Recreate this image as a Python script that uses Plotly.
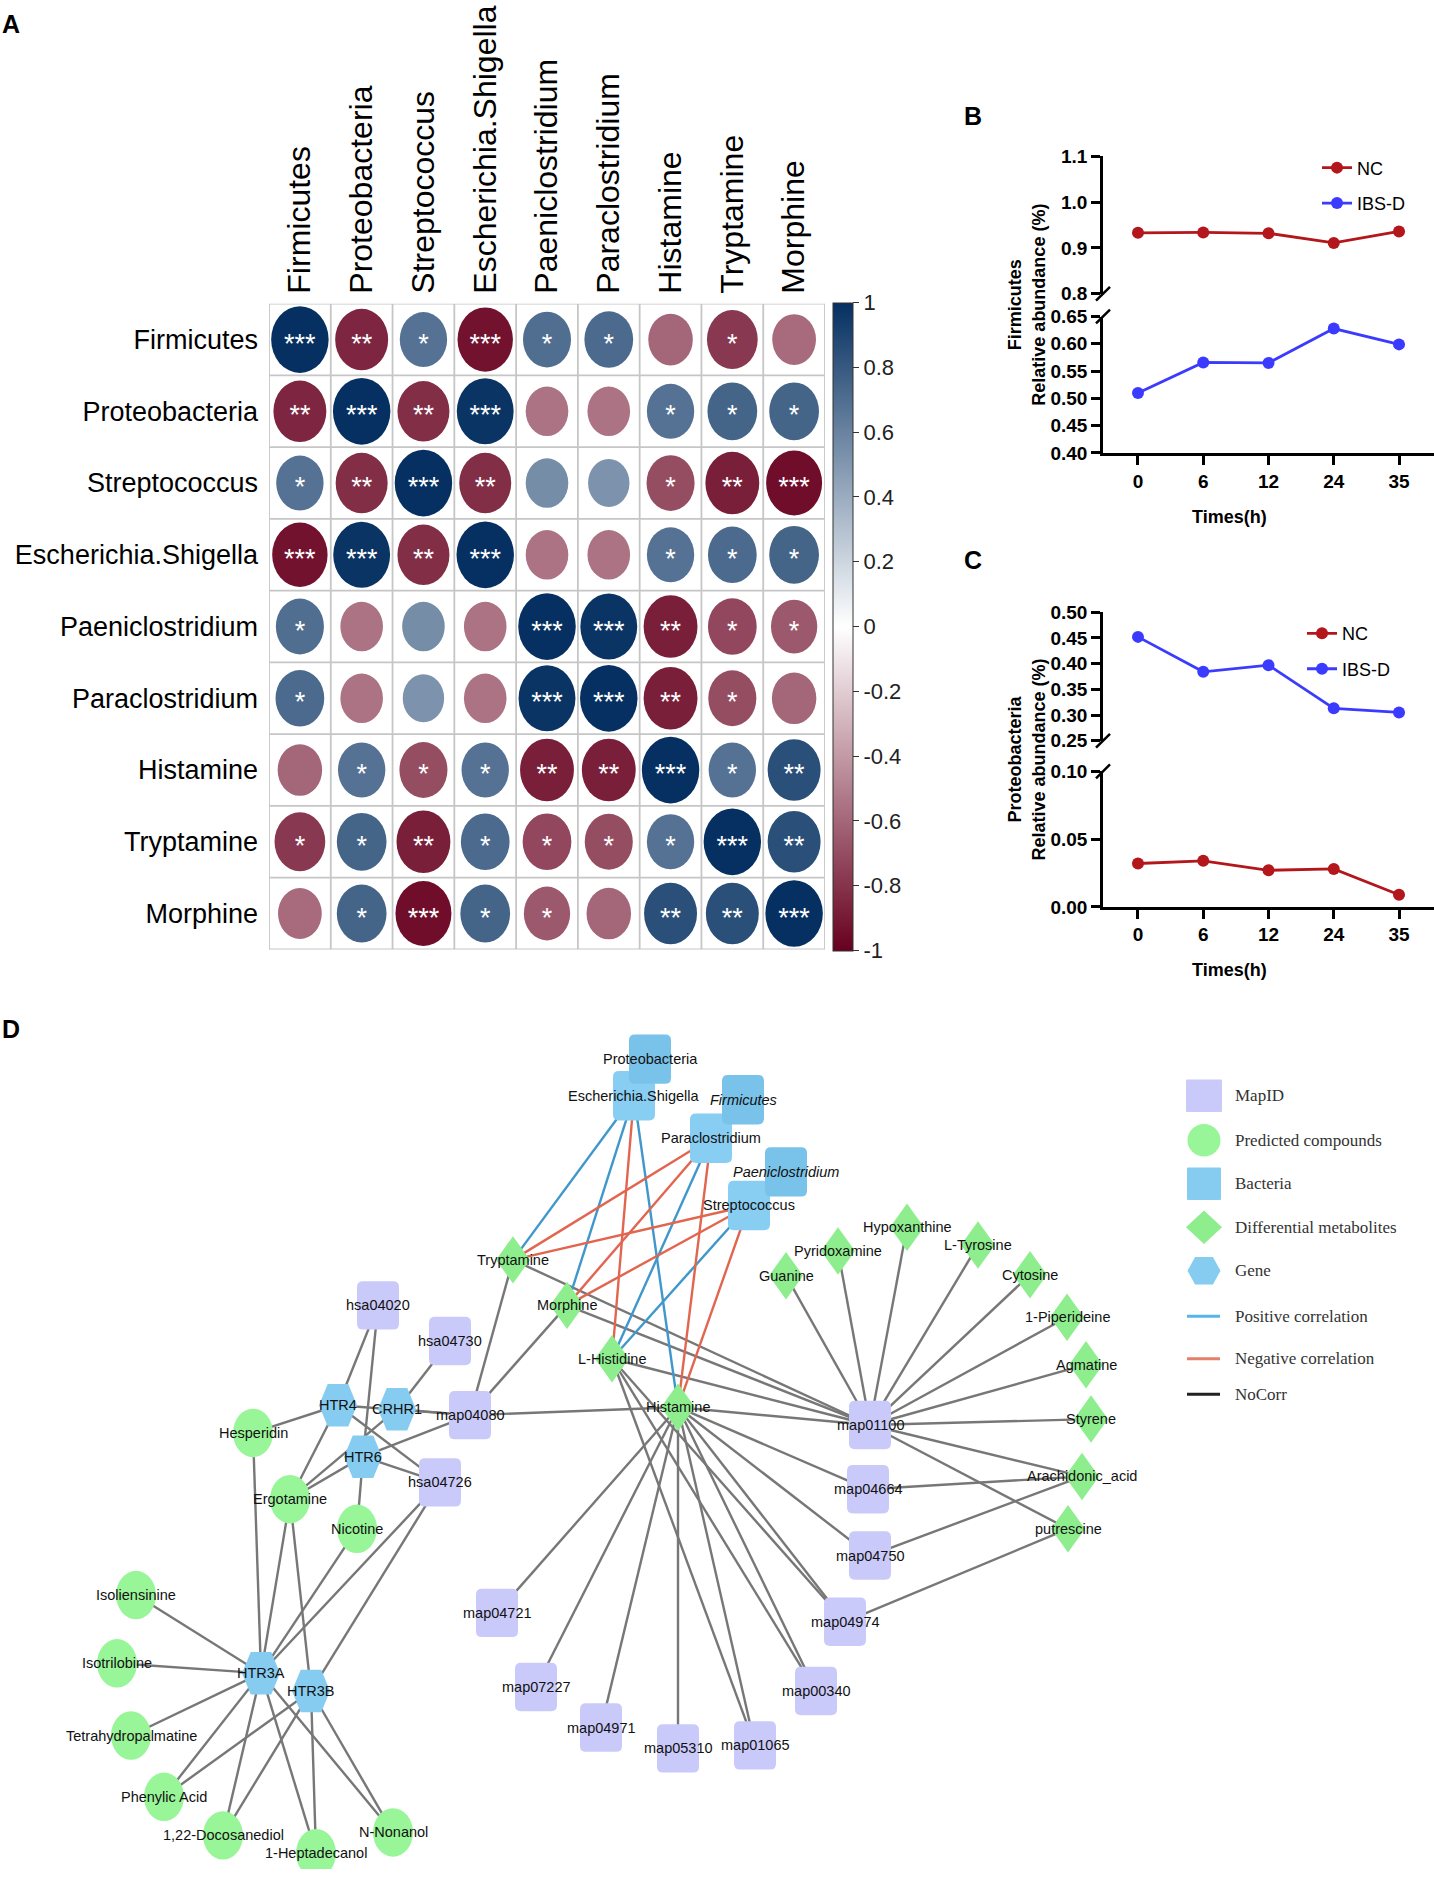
import numpy as np
import plotly.graph_objects as go
from plotly.colors import sample_colorscale

W, H = 1434, 1880
FONT = "Liberation Sans, Arial, sans-serif"
SERIF = "Liberation Serif, Times New Roman, serif"

# ---------------- Panel A data ----------------
corr_vars = ["Firmicutes", "Proteobacteria", "Streptococcus", "Escherichia.Shigella",
             "Paeniclostridium", "Paraclostridium", "Histamine", "Tryptamine", "Morphine"]
corr_values = [
    [1.00, -0.85, 0.68, -0.93, 0.70, 0.72, -0.60, -0.78, -0.58],
    [-0.85, 1.00, -0.82, 0.98, -0.55, -0.55, 0.68, 0.75, 0.75],
    [0.68, -0.82, 1.00, -0.82, 0.55, 0.52, -0.70, -0.88, -0.95],
    [-0.93, 0.98, -0.82, 1.00, -0.55, -0.55, 0.68, 0.72, 0.75],
    [0.70, -0.55, 0.55, -0.55, 1.00, 0.98, -0.88, -0.72, -0.65],
    [0.72, -0.55, 0.52, -0.55, 0.98, 1.00, -0.88, -0.70, -0.60],
    [-0.60, 0.68, -0.70, 0.68, -0.88, -0.88, 1.00, 0.68, 0.85],
    [-0.78, 0.75, -0.88, 0.72, -0.72, -0.70, 0.68, 1.00, 0.85],
    [-0.58, 0.75, -0.95, 0.75, -0.65, -0.60, 0.85, 0.85, 1.00],
]
corr_stars = [
    ["***", "**", "*", "***", "*", "*", "", "*", ""],
    ["**", "***", "**", "***", "", "", "*", "*", "*"],
    ["*", "**", "***", "**", "", "", "*", "**", "***"],
    ["***", "***", "**", "***", "", "", "*", "*", "*"],
    ["*", "", "", "", "***", "***", "**", "*", "*"],
    ["*", "", "", "", "***", "***", "**", "*", ""],
    ["", "*", "*", "*", "**", "**", "***", "*", "**"],
    ["*", "*", "**", "*", "*", "*", "*", "***", "**"],
    ["", "*", "***", "*", "*", "", "**", "**", "***"],
]
cb_tickvals = [1, 0.8, 0.6, 0.4, 0.2, 0, -0.2, -0.4, -0.6, -0.8, -1]
cb_ticktext = ["1", "0.8", "0.6", "0.4", "0.2", "0", "-0.2", "-0.4", "-0.6", "-0.8", "-1"]
corr_scale = [[0, "#67001F"], [0.5, "#FFFFFF"], [1, "#053061"]]

# ---------------- Panels B / C data ----------------
times = ["0", "6", "12", "24", "35"]
firm_nc = [0.933, 0.934, 0.932, 0.911, 0.936]
firm_ibs = [0.510, 0.566, 0.565, 0.628, 0.599]
prot_nc = [0.032, 0.034, 0.027, 0.028, 0.009]
prot_ibs = [0.452, 0.384, 0.397, 0.313, 0.305]
b_upper_ticks = [0.8, 0.9, 1.0, 1.1]
b_lower_ticks = [0.40, 0.45, 0.50, 0.55, 0.60, 0.65]
c_upper_ticks = [0.25, 0.30, 0.35, 0.40, 0.45, 0.50]
c_lower_ticks = [0.00, 0.05, 0.10]

# ---------------- Panel D data (network layout, pixel units) ----------------
node_names = [
    "hsa04020", "hsa04730", "map04080", "hsa04726", "map01100", "map04664", "map04750", "map04974",
    "map04721", "map07227", "map04971", "map05310", "map01065", "map00340",
    "Hesperidin", "Ergotamine", "Nicotine", "Isoliensinine", "Isotrilobine", "Tetrahydropalmatine",
    "Phenylic Acid", "1,22-Docosanediol", "1-Heptadecanol", "N-Nonanol",
    "Tryptamine", "Morphine", "L-Histidine", "Histamine", "Guanine", "Pyridoxamine", "Hypoxanthine",
    "L-Tyrosine", "Cytosine", "1-Piperideine", "Agmatine", "Styrene", "Arachidonic_acid", "putrescine",
    "HTR4", "CRHR1", "HTR6", "HTR3A", "HTR3B",
    "Escherichia.Shigella", "Paraclostridium", "Streptococcus", "Proteobacteria", "Firmicutes", "Paeniclostridium",
]
node_types = (["map"] * 14 + ["pred"] * 10 + ["metab"] * 14 + ["gene"] * 5 +
              ["bact"] * 3 + ["bact2"] * 3)
node_x = [378, 450, 470, 440, 870, 868, 870, 845,
          497, 536, 601, 678, 755, 816,
          253, 290, 357, 136, 117, 131,
          164, 223, 316, 393,
          513, 567, 612, 678, 786, 838, 907,
          978, 1030, 1067, 1086, 1091, 1082, 1068,
          338, 397, 363, 261, 311,
          634, 711, 749, 650, 743, 786]
node_y = [1310, 1346, 1421, 1489, 1431, 1496, 1563, 1630,
          1621, 1696, 1737, 1758, 1755, 1700,
          1439, 1506, 1536, 1603, 1672, 1745,
          1807, 1846, 1864, 1843,
          1264, 1310, 1364, 1413, 1280, 1255, 1231,
          1249, 1279, 1322, 1370, 1425, 1483, 1536,
          1411, 1415, 1463, 1682, 1700,
          1098, 1141, 1209, 1061, 1102, 1175]
italic_nodes = ["Firmicutes", "Paeniclostridium"]

pos_edges = [("Escherichia.Shigella", "Tryptamine"), ("Escherichia.Shigella", "Morphine"),
             ("Escherichia.Shigella", "Histamine"), ("Paraclostridium", "L-Histidine"),
             ("Streptococcus", "L-Histidine")]
neg_edges = [("Escherichia.Shigella", "L-Histidine"), ("Paraclostridium", "Tryptamine"),
             ("Paraclostridium", "Morphine"), ("Paraclostridium", "Histamine"),
             ("Streptococcus", "Tryptamine"), ("Streptococcus", "Morphine"),
             ("Streptococcus", "Histamine")]
nocorr_edges = (
    [("map04080", t) for t in ["Tryptamine", "Morphine", "Histamine", "CRHR1", "HTR4", "HTR6"]] +
    [("map01100", t) for t in ["Tryptamine", "Morphine", "L-Histidine", "Histamine", "Guanine",
                               "Pyridoxamine", "Hypoxanthine", "L-Tyrosine", "Cytosine",
                               "1-Piperideine", "Agmatine", "Styrene", "Arachidonic_acid", "putrescine"]] +
    [("Histamine", t) for t in ["map04664", "map04750", "map04974", "map00340", "map01065",
                                "map05310", "map04971", "map07227", "map04721"]] +
    [("L-Histidine", t) for t in ["map04974", "map00340", "map01065"]] +
    [("map04664", "Arachidonic_acid"), ("map04750", "Arachidonic_acid"), ("map04974", "putrescine")] +
    [("hsa04020", "HTR4"), ("hsa04020", "HTR6"), ("hsa04730", "CRHR1")] +
    [("hsa04726", t) for t in ["HTR4", "HTR6", "HTR3A", "HTR3B"]] +
    [("Hesperidin", "HTR4"), ("Hesperidin", "HTR3A")] +
    [("Ergotamine", t) for t in ["HTR4", "HTR6", "CRHR1", "HTR3A", "HTR3B"]] +
    [("Nicotine", "HTR6"), ("Nicotine", "HTR3A")] +
    [("HTR3A", t) for t in ["Isoliensinine", "Isotrilobine", "Tetrahydropalmatine", "Phenylic Acid",
                            "1,22-Docosanediol", "1-Heptadecanol", "N-Nonanol"]] +
    [("HTR3B", t) for t in ["Phenylic Acid", "1,22-Docosanediol", "1-Heptadecanol", "N-Nonanol"]]
)
legend_labels = ["MapID", "Predicted compounds", "Bacteria", "Differential metabolites", "Gene",
                 "Positive correlation", "Negative correlation", "NoCorr"]
legend_kinds = ["map", "pred", "bact", "metab", "gene", "pos", "neg", "none"]
legend_y = [1098, 1143, 1187, 1231, 1275, 1321, 1364, 1400]

# ---------------- styling ----------------
C_NC, C_IBS = "#B3161B", "#3B3BFF"
node_fill = {"map": "#CACAFA", "pred": "#98F598", "metab": "#8EEE8E", "gene": "#86CCF0",
             "bact": "#88CEF3", "bact2": "#79C2EA"}
edge_col = {"pos": "#3F97CC", "neg": "#E2654F", "none": "#777777"}


def px_x(v):
    return v / W


def px_y(v):
    return 1 - v / H


def rrect_path(cx, cy, w, h, r):
    x0, x1, y0, y1 = cx - w / 2, cx + w / 2, cy - h / 2, cy + h / 2
    return (f"M {x0+r},{y0} L {x1-r},{y0} Q {x1},{y0} {x1},{y0+r} L {x1},{y1-r} "
            f"Q {x1},{y1} {x1-r},{y1} L {x0+r},{y1} Q {x0},{y1} {x0},{y1-r} "
            f"L {x0},{y0+r} Q {x0},{y0} {x0+r},{y0} Z")


def diamond_path(cx, cy, w, h):
    return f"M {cx},{cy-h/2} L {cx+w/2},{cy} L {cx},{cy+h/2} L {cx-w/2},{cy} Z"


def hex_path(cx, cy, w, h):
    a = 0.27 * w
    return (f"M {cx-w/2},{cy} L {cx-a},{cy-h/2} L {cx+a},{cy-h/2} L {cx+w/2},{cy} "
            f"L {cx+a},{cy+h/2} L {cx-a},{cy+h/2} Z")


def node_shape(kind, cx, cy, w, h, fill, xref="x6", yref="y6"):
    base = dict(xref=xref, yref=yref, fillcolor=fill, line=dict(width=0), layer="above")
    if kind in ("map", "bact", "bact2"):
        base.update(type="path", path=rrect_path(cx, cy, w, h, 6))
    elif kind == "pred":
        base.update(type="circle", x0=cx - w / 2, x1=cx + w / 2, y0=cy - h / 2, y1=cy + h / 2)
    elif kind == "metab":
        base.update(type="path", path=diamond_path(cx, cy, w, h))
    else:
        base.update(type="path", path=hex_path(cx, cy, w, h))
    return base


node_size = {"map": (42, 49), "pred": (40, 49), "metab": (34, 48), "gene": (38, 43),
             "bact": (42, 50), "bact2": (42, 50)}

fig = go.Figure()
shapes = []
annotations = []

# ================= Panel A =================
R = np.array(corr_values)
n = len(corr_vars)
for k in range(n + 1):
    shapes.append(dict(type="line", xref="x", yref="y", x0=k - 0.5, x1=k - 0.5, y0=-0.5, y1=n - 0.5,
                       line=dict(color="#C6C6C6", width=1.8), layer="below"))
    shapes.append(dict(type="line", xref="x", yref="y", y0=k - 0.5, y1=k - 0.5, x0=-0.5, x1=n - 0.5,
                       line=dict(color="#C6C6C6", width=1.8), layer="below"))
sx, sy, st, sc = [], [], [], []
for i in range(n):
    for j in range(n):
        v = R[i, j]
        rad = 0.465 * np.sqrt(abs(v))
        col = sample_colorscale(corr_scale, [(v + 1) / 2])[0]
        shapes.append(dict(type="circle", xref="x", yref="y", x0=j - rad, x1=j + rad,
                           y0=i - rad, y1=i + rad, fillcolor=col, line=dict(width=0), layer="below"))
        sx.append(j)
        sy.append(i + 0.09)
        st.append(corr_stars[i][j])
        sc.append(v)

fig.add_trace(go.Scatter(
    x=sx, y=sy, text=st, mode="markers+text", xaxis="x", yaxis="y", showlegend=False,
    hoverinfo="skip", textfont=dict(color="white", size=27, family=FONT),
    marker=dict(size=1, opacity=0, color=sc, colorscale=corr_scale, cmin=-1, cmax=1, showscale=True,
                colorbar=dict(x=px_x(833), xanchor="left", y=px_y(623.5), yanchor="middle",
                              len=655 / H, lenmode="fraction", thickness=20, xpad=0, ypad=0,
                              outlinewidth=1, outlinecolor="#333333",
                              tickvals=cb_tickvals, ticktext=cb_ticktext, ticks="outside",
                              ticklen=6, tickcolor="#333333",
                              tickfont=dict(size=22, family=FONT, color="#222222"))),
))

# ================= Panels B and C =================
AXIS_X = 1103
bx_dom = [px_x(AXIS_X), px_x(1434)]
x_range = [-0.536, 4.536]
tick_font = dict(family=FONT, size=19, color="black", weight="bold")
axis_common = dict(showline=True, linecolor="black", linewidth=2.5, ticks="outside", ticklen=9,
                   tickwidth=2.5, tickcolor="black", showgrid=False, zeroline=False, tickfont=tick_font)

panels = [
    ("2", 148, 287, [0.8, 1.1], b_upper_ticks, ".1f", firm_nc, "NC", C_NC, "legend", False),
    ("3", 310, 448, [0.40, 0.65], b_lower_ticks, ".2f", firm_ibs, "IBS-D", C_IBS, "legend", True),
    ("5", 770, 907, [0.0, 0.10], c_lower_ticks, ".2f", prot_nc, "NC", C_NC, "legend2", True),
    ("4", 609, 739, [0.25, 0.50], c_upper_ticks, ".2f", prot_ibs, "IBS-D", C_IBS, "legend2", False),
]
layout_axes = {}
breaks = []
for ax, top, bot, rng, tv, fmt, ys, name, colr, leg, show_x in panels:
    fig.add_trace(go.Scatter(
        x=times, y=ys, xaxis="x" + ax, yaxis="y" + ax, name=name, legend=leg,
        legendgroup=name + leg, mode="lines+markers", line=dict(color=colr, width=2.8),
        marker=dict(color=colr, size=12), hoverinfo="skip"))
    layout_axes["yaxis" + ax] = dict(domain=[px_y(bot), px_y(top)], range=rng, tickvals=tv,
                                     tickformat=fmt, anchor="x" + ax, **axis_common)
    xa = dict(domain=bx_dom, range=x_range, type="category", anchor="y" + ax,
              categoryorder="array", categoryarray=times)
    if show_x:
        xa.update(axis_common)
        breaks.append(top)
    else:
        xa.update(visible=False)
        breaks.append(bot)
    layout_axes["xaxis" + ax] = xa


def break_mark(ypx):
    return dict(type="line", xref="paper", yref="paper", x0=px_x(AXIS_X - 7), x1=px_x(AXIS_X + 7),
                y0=px_y(ypx + 7), y1=px_y(ypx - 7), line=dict(color="black", width=2.5))


for ypx in breaks:
    shapes.append(break_mark(ypx))

for txt, yc in (("Firmicutes<br>Relative abundance (%)", 298),
                ("Proteobacteria<br>Relative abundance (%)", 758)):
    annotations.append(dict(x=px_x(1027), y=px_y(yc), xref="paper", yref="paper", text=txt,
                            textangle=-90, showarrow=False, xanchor="center", yanchor="middle",
                            font=dict(family=FONT, size=18, color="black", weight="bold")))
for yc in (501, 971):
    annotations.append(dict(x=px_x(1269), y=px_y(yc), xref="paper", yref="paper", text="Times(h)",
                            showarrow=False, font=dict(family=FONT, size=18, color="black", weight="bold")))

# ================= Panel D =================
pos_of = {nm: (x, y) for nm, x, y in zip(node_names, node_x, node_y)}
for kind, elist in (("none", nocorr_edges), ("pos", pos_edges), ("neg", neg_edges)):
    ex, ey = [], []
    for a, b in elist:
        ex += [pos_of[a][0], pos_of[b][0], None]
        ey += [pos_of[a][1], pos_of[b][1], None]
    fig.add_trace(go.Scatter(x=ex, y=ey, mode="lines", xaxis="x6", yaxis="y6", showlegend=False,
                             hoverinfo="skip", line=dict(color=edge_col[kind], width=2.4)))

for nm, kind, x, y in zip(node_names, node_types, node_x, node_y):
    w, h = node_size[kind]
    shapes.append(node_shape(kind, x, y, w, h, node_fill[kind]))
for nm, x, y in zip(node_names, node_x, node_y):
    label = f"<i>{nm}</i>" if nm in italic_nodes else nm
    annotations.append(dict(x=x, y=y, xref="x6", yref="y6", text=label, showarrow=False,
                            font=dict(family=FONT, size=14.5, color="#111111")))

# network legend
legend_size = {"map": (36, 33), "pred": (33, 33), "bact": (34, 33), "metab": (36, 34), "gene": (33, 28)}
legend_fill = {"map": "#CACAFA", "pred": "#98F598", "bact": "#86CCF0", "metab": "#8EEE8E", "gene": "#86CCF0"}
line_legend_col = {"pos": "#5AB4E8", "neg": "#E2806A", "none": "#222222"}
for lab, kind, yc in zip(legend_labels, legend_kinds, legend_y):
    if kind in legend_size:
        w, h = legend_size[kind]
        s = node_shape(kind, 1204, yc, w, h, legend_fill[kind])
        if kind in ("map", "bact"):
            s["path"] = rrect_path(1204, yc, w, h, 1)
        shapes.append(s)
    else:
        shapes.append(dict(type="line", xref="x6", yref="y6", x0=1187, x1=1220, y0=yc, y1=yc,
                           line=dict(color=line_legend_col[kind], width=3), layer="above"))
    annotations.append(dict(x=1233, y=yc, xref="x6", yref="y6", text=lab, showarrow=False,
                            xanchor="left", font=dict(family=SERIF, size=17, color="#333333")))

# panel letters
for letter, lx, ly in (("A", 0, 14), ("B", 962, 107), ("C", 962, 556), ("D", 0, 1031)):
    annotations.append(dict(x=px_x(lx), y=px_y(ly), xref="paper", yref="paper", text=letter,
                            showarrow=False, xanchor="left", yanchor="middle",
                            font=dict(family=FONT, size=25, color="black", weight="bold")))

legend_common = dict(xanchor="left", yanchor="top", bgcolor="rgba(0,0,0,0)",
                     font=dict(family=FONT, size=18, color="black"), tracegroupgap=9,
                     itemwidth=30, borderwidth=0)

fig.update_layout(
    width=W, height=H, autosize=False, margin=dict(l=0, r=0, t=0, b=0),
    paper_bgcolor="white", plot_bgcolor="rgba(0,0,0,0)",
    font=dict(family=FONT, color="black"),
    xaxis=dict(domain=[px_x(269), px_x(825)], range=[-0.5, n - 0.5], tickvals=list(range(n)),
               ticktext=corr_vars, side="top", tickangle=-90, showgrid=False, zeroline=False,
               showline=False, ticks="", ticklabelstandoff=9,
               tickfont=dict(family=FONT, size=32, color="black"), anchor="y"),
    yaxis=dict(domain=[px_y(950), px_y(297)], range=[n - 0.5, -0.5], tickvals=list(range(n)),
               ticktext=corr_vars, showgrid=False, zeroline=False, showline=False, ticks="",
               ticklabelstandoff=10, tickfont=dict(family=FONT, size=27, color="black"), anchor="x"),
    xaxis6=dict(domain=[0, 1], range=[0, W], visible=False, anchor="y6"),
    yaxis6=dict(domain=[0, px_y(1000)], range=[H, 1000], visible=False, anchor="x6"),
    legend=dict(x=px_x(1317), y=px_y(141), **legend_common),
    legend2=dict(x=px_x(1302), y=px_y(612), **legend_common),
    shapes=shapes, annotations=annotations, showlegend=True,
    **layout_axes,
)

fig.write_html("out.html", config={"displayModeBar": False},
               post_script="document.body.style.margin='0';")
